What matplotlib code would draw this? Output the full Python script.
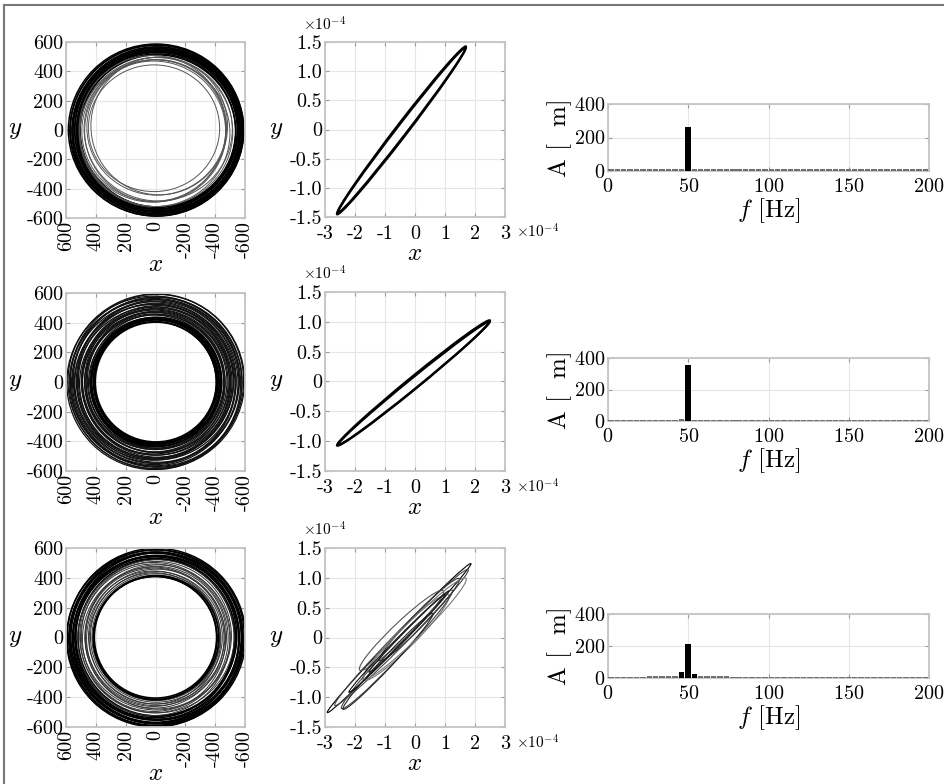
import numpy as np
import matplotlib
matplotlib.use("Agg")
import matplotlib.pyplot as plt
from matplotlib.patches import Ellipse
from matplotlib.lines import Line2D

plt.rcParams['font.family'] = 'serif'
plt.rcParams['font.serif'] = ['cmr10', 'DejaVu Serif']
plt.rcParams['mathtext.fontset'] = 'cm'
plt.rcParams['axes.unicode_minus'] = False
plt.rcParams['axes.formatter.use_mathtext'] = True

# ---------------- data ----------------
# orbit plots: rings of revolutions, semi axes rx, ry and centre cx, cy
orb1_outer_rx = [588, 582, 577, 571, 566, 561, 556, 551, 546, 541, 536, 531, 526, 521]
orb1_outer_ry = [586, 583, 575, 572, 564, 562, 554, 552, 544, 542, 534, 532, 524, 522]
orb1_outer_cx = [-4, -8, -6, -10, -12, -8, -14, -10, -16, -12, -14, -18, -12, -16]
orb1_outer_cy = [0, -4, 3, -6, 2, -8, 4, -5, -10, 0, -6, 5, -12, -3]
orb1_inner_rx = [440, 468, 482, 497, 505, 458, 492, 512, 475]
orb1_inner_ry = [432, 462, 478, 490, 500, 470, 500, 508, 485]
orb1_inner_cx = [10, -8, 12, -18, 6, -25, 20, -6, 0]
orb1_inner_cy = [12, 18, -8, 6, -22, 28, 8, -14, -5]

orb2_outer_rx = [592, 587, 581, 575, 569, 563, 557, 551, 545, 539, 533, 527, 521, 515,
                 509, 503, 497, 491, 485, 479, 473, 467, 461, 455, 449, 443]
orb2_outer_ry = [590, 585, 583, 573, 571, 561, 559, 549, 547, 537, 535, 525, 523, 513,
                 511, 501, 499, 489, 487, 477, 475, 465, 463, 453, 451, 441]
orb2_outer_cx = [-5, 8, -10, 4, -12, 10, -6, 12, -14, 6, -8, 14, -4, 10,
                 -12, 6, -8, 4, -10, 12, -6, 8, -4, 10, -8, 6]
orb2_outer_cy = [4, -6, 8, -10, 2, -4, 12, -8, 6, -12, 10, -2, 8, -6,
                 4, -10, 6, -4, 10, -8, 2, -6, 8, -2, 4, -6]
orb2_inner_rx = [436, 431, 426, 421, 416, 411, 406]
orb2_inner_ry = [434, 433, 424, 423, 414, 413, 404]
orb2_inner_cx = [-6, 4, -10, 6, -4, 2, -2]
orb2_inner_cy = [2, -4, 6, -2, 4, -6, 0]

orb3_outer_rx = [598, 592, 586, 580, 575, 569, 563, 557, 551, 545, 539, 533, 527]
orb3_outer_ry = [596, 593, 584, 581, 573, 570, 561, 558, 549, 546, 537, 534, 525]
orb3_outer_cx = [-6, 4, -10, 2, -8, 6, -12, 0, -10, 8, -6, 4, -8]
orb3_outer_cy = [2, -6, 4, -8, 0, -4, 6, -10, 2, -6, 8, -4, 0]
orb3_mid_rx = [518, 510, 503, 495, 488, 480, 472, 465, 457, 450, 442, 436, 430]
orb3_mid_ry = [513, 513, 498, 499, 483, 484, 467, 469, 452, 454, 438, 440, 426]
orb3_mid_cx = [-10, 12, -6, 8, -14, 10, -4, 6, -8, 12, -6, 8, -4]
orb3_mid_cy = [8, -10, 12, -6, 4, -12, 10, -4, 6, -8, 4, -6, 2]
orb3_inner_rx = [420, 415, 410]
orb3_inner_ry = [416, 413, 408]
orb3_inner_cx = [-4, 2, 0]
orb3_inner_cy = [0, -4, 2]

# shaft orbit in the middle column, units of 1e-4
ell1_cx = [-0.45, -0.44]
ell1_cy = [-0.015, -0.01]
ell1_len = [5.17, 5.12]
ell1_wid = [0.28, 0.24]
ell1_ang = [33.7, 33.6]

ell2_cx = [-0.05, -0.04]
ell2_cy = [-0.025, -0.03]
ell2_len = [5.51, 5.46]
ell2_wid = [0.23, 0.20]
ell2_ang = [22.3, 22.2]

ell3_cx = [-0.53, -0.45, -0.45, -0.30, -0.60, 0.15, -0.90, 0.00, -0.60, -0.20]
ell3_cy = [-0.01, 0.00, 0.12, 0.00, -0.20, 0.30, -0.40, 0.15, -0.10, 0.10]
ell3_len = [5.40, 5.00, 3.10, 3.20, 4.20, 3.00, 3.40, 3.80, 3.60, 3.00]
ell3_wid = [0.20, 0.28, 0.34, 0.40, 0.30, 0.28, 0.24, 0.36, 0.15, 0.12]
ell3_ang = [27.5, 27.0, 25.0, 26.0, 28.0, 27.0, 28.0, 26.0, 27.0, 27.0]

# amplitude spectra, 4 Hz bins
f_bins = np.arange(50) * 4 + 1.75
amp1 = [9, 9, 9, 9, 9, 9, 9, 9, 9, 9, 9, 9, 262, 9, 9, 9, 9, 9, 9, 9,
        9, 9, 9, 9, 9, 9, 9, 9, 9, 9, 9, 9, 9, 9, 9, 9, 9, 9, 9, 9,
        9, 9, 9, 9, 9, 9, 9, 9, 9, 9]
amp2 = [9, 9, 9, 9, 9, 9, 9, 9, 9, 9, 9, 12, 355, 9, 9, 9, 9, 9, 9, 9,
        9, 9, 9, 9, 9, 9, 9, 9, 9, 9, 9, 9, 9, 9, 9, 9, 9, 9, 9, 9,
        9, 9, 9, 9, 9, 9, 9, 9, 9, 9]
amp3 = [9, 9, 9, 9, 9, 9, 10, 10, 10, 12, 13, 40, 215, 22, 12, 11, 11, 11, 11, 9,
        9, 9, 9, 9, 9, 9, 9, 9, 9, 9, 9, 9, 9, 9, 9, 9, 9, 9, 9, 9,
        9, 9, 9, 9, 9, 9, 9, 9, 9, 9]

orb_ticks = [600, 400, 200, 0, -200, -400, -600]
orb_ticklabels = ['600', '400', '200', '0', '-200', '-400', '-600']
mid_xticks = [-3, -2, -1, 0, 1, 2, 3]
mid_xticklabels = ['-3', '-2', '-1', '0', '1', '2', '3']
mid_yticks = [1.5, 1.0, 0.5, 0, -0.5, -1.0, -1.5]
mid_yticklabels = ['1.5', '1.0', '0.5', '0', '-0.5', '-1.0', '-1.5']
spec_xticks = [0, 50, 100, 150, 200]
spec_yticks = [0, 200, 400]

W, H = 944, 784
fig = plt.figure(figsize=(W / 100, H / 100), dpi=100)

def box(x0, y0, x1, y1):
    return [x0 / W, 1 - y1 / H, (x1 - x0) / W, (y1 - y0) / H]

def style(ax):
    for s in ax.spines.values():
        s.set_color('#c4c4c4')
        s.set_linewidth(1.3)
    ax.tick_params(direction='in', length=3, color='#9a9a9a', top=True, right=True,
                   labelsize=14.5, pad=2)
    ax.grid(True, color='#e6e6e6', lw=0.8)
    ax.set_axisbelow(True)

def rings(ax, rx, ry, cx, cy, color, lw):
    for a, b, x0, y0 in zip(rx, ry, cx, cy):
        ax.add_patch(Ellipse((x0, y0), 2 * a, 2 * b, fill=False, ec=color, lw=lw))

orbit_sets = [
    [(orb1_outer_rx, orb1_outer_ry, orb1_outer_cx, orb1_outer_cy, 'k', 1.1),
     (orb1_inner_rx, orb1_inner_ry, orb1_inner_cx, orb1_inner_cy, '#555555', 0.7)],
    [(orb2_outer_rx, orb2_outer_ry, orb2_outer_cx, orb2_outer_cy, '#111111', 0.9),
     (orb2_inner_rx, orb2_inner_ry, orb2_inner_cx, orb2_inner_cy, 'k', 1.2)],
    [(orb3_outer_rx, orb3_outer_ry, orb3_outer_cx, orb3_outer_cy, 'k', 1.1),
     (orb3_mid_rx, orb3_mid_ry, orb3_mid_cx, orb3_mid_cy, '#333333', 0.7),
     (orb3_inner_rx, orb3_inner_ry, orb3_inner_cx, orb3_inner_cy, 'k', 1.2)],
]
ell_sets = [
    (ell1_cx, ell1_cy, ell1_len, ell1_wid, ell1_ang),
    (ell2_cx, ell2_cy, ell2_len, ell2_wid, ell2_ang),
    (ell3_cx, ell3_cy, ell3_len, ell3_wid, ell3_ang),
]
ell_colors = [['k', 'k'], ['k', 'k'],
              ['k', '#444444', '#555555', '#777777', '#444444', '#333333', '#222222',
               '#777777', '#111111', '#222222']]
amps = [amp1, amp2, amp3]

left_rows = [(42, 218), (293, 471), (548, 727)]
mid_rows = [(42, 217), (292, 471), (548, 727)]
spec_rows = [(104, 171), (358, 421), (614, 678)]

for r in range(3):
    # orbit
    ax = fig.add_axes(box(66, left_rows[r][0], 245, left_rows[r][1]))
    style(ax)
    for rx, ry, cx, cy, c, lw in orbit_sets[r]:
        rings(ax, rx, ry, cx, cy, c, lw)
    ax.set_xlim(600, -600)
    ax.set_ylim(-600, 600)
    ax.set_xticks(orb_ticks)
    ax.set_xticklabels(orb_ticklabels, rotation=90)
    ax.set_yticks(orb_ticks)
    ax.set_yticklabels(orb_ticklabels)
    ax.set_xlabel('$x$', fontsize=18, labelpad=-3)
    ax.set_ylabel('$y$', fontsize=18, rotation=0, labelpad=8, va='center')

    # middle orbit, x1e-4
    ax = fig.add_axes(box(325, mid_rows[r][0], 505, mid_rows[r][1]))
    style(ax)
    cxs, cys, lens, wids, angs = ell_sets[r]
    for i in range(len(cxs)):
        ax.add_patch(Ellipse((cxs[i], cys[i]), lens[i], wids[i], angle=angs[i],
                             fill=False, ec=ell_colors[r][i],
                             lw=1.6 if r < 2 else 0.8))
    ax.set_xlim(-3, 3)
    ax.set_ylim(-1.5, 1.5)
    ax.set_xticks(mid_xticks)
    ax.set_xticklabels(mid_xticklabels)
    ax.set_yticks(mid_yticks)
    ax.set_yticklabels(mid_yticklabels)
    ax.tick_params(axis='x', pad=6)
    ax.set_xlabel('$x$', fontsize=18, labelpad=0)
    ax.set_ylabel('$y$', fontsize=18, rotation=0, labelpad=10, va='center')
    ax.text(-0.12, 1.1, r'$\times 10^{-4}$', transform=ax.transAxes,
            fontsize=11, ha='left', va='center')
    ax.text(1.06, -0.085, r'$\times 10^{-4}$', transform=ax.transAxes,
            fontsize=11, ha='left', va='center')

    # amplitude spectrum
    ax = fig.add_axes(box(608, spec_rows[r][0], 929, spec_rows[r][1]))
    style(ax)
    bar_colors = ['k' if a > 15 else '#707070' for a in amps[r]]
    ax.bar(f_bins, amps[r], width=3.4, color=bar_colors, lw=0, zorder=3)
    ax.set_xlim(0, 200)
    ax.set_ylim(0, 400)
    ax.set_xticks(spec_xticks)
    ax.set_yticks(spec_yticks)
    ax.tick_params(axis='x', pad=5)
    ax.set_xlabel('$f$ [Hz]', fontsize=18, labelpad=0)
    ax.set_ylabel('A [  m]', fontsize=18, labelpad=1)

# frame lines at top and left
fig.add_artist(Line2D([0.004, 1.0], [1 - 5 / H, 1 - 5 / H], color='#777777', lw=1.5))
fig.add_artist(Line2D([4 / W, 4 / W], [0.0, 1 - 5 / H], color='#777777', lw=1.5))

fig.savefig('out.png', dpi=100)
